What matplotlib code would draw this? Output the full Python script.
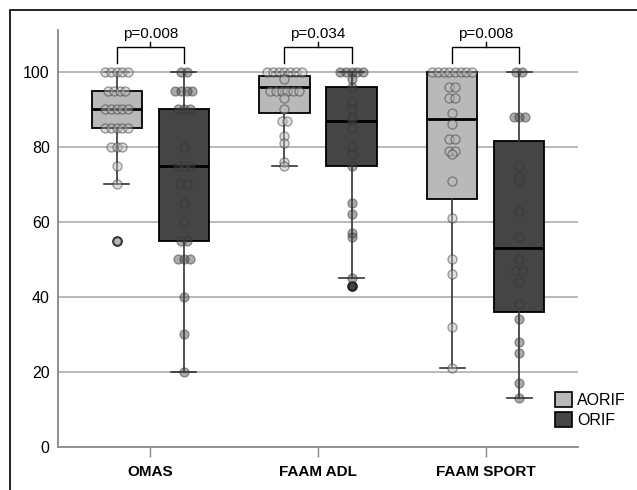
import numpy as np
import matplotlib
matplotlib.use("Agg")
import matplotlib.pyplot as plt
from matplotlib.patches import Patch, Rectangle

plt.rcParams['font.family'] = ['Liberation Sans', 'DejaVu Sans']

categories = ["OMAS", "FAAM ADL", "FAAM SPORT"]
groups = ["AORIF", "ORIF"]
colors = {"AORIF": "#b9b9b9", "ORIF": "#454545"}
pvalues = ["p=0.008", "p=0.034", "p=0.008"]

# individual scores
omas_aorif = [100]*5 + [95]*4 + [90]*5 + [85]*5 + [80]*3 + [75, 70, 55]
omas_orif = [100]*2 + [95]*4 + [90]*3 + [80] + [75]*3 + [70]*2 + [65, 60] + [55]*2 + [50]*3 + [40, 30, 20]
adl_aorif = [100]*7 + [98] + [95]*6 + [93, 90] + [87]*2 + [83, 81, 76, 75]
adl_orif = [100]*5 + [98, 96, 92, 90, 88, 87, 85, 80, 78, 75, 65, 62, 57, 56, 45, 43]
sport_aorif = [100]*8 + [96]*2 + [93]*2 + [89, 86] + [82]*2 + [79]*2 + [78, 71, 61, 50, 46, 32, 21]
sport_orif = [100]*2 + [88]*3 + [75, 72, 71, 63, 56, 50, 47, 47, 44, 38, 34, 28, 25, 17, 13]

# box statistics per category: AORIF / ORIF
q1 = {"AORIF": [85, 89, 66], "ORIF": [55, 75, 36]}
med = {"AORIF": [90, 96, 87.5], "ORIF": [75, 87, 53]}
q3 = {"AORIF": [95, 99, 100], "ORIF": [90, 96, 81.5]}
whislo = {"AORIF": [70, 75, 21], "ORIF": [20, 45, 13]}
whishi = {"AORIF": [100, 100, 100], "ORIF": [100, 100, 100]}
fliers = {"AORIF": [[55], [], []], "ORIF": [[], [43], []]}

points = {"AORIF": [omas_aorif, adl_aorif, sport_aorif],
          "ORIF": [omas_orif, adl_orif, sport_orif]}

fig = plt.figure(figsize=(6.37, 4.9), dpi=100)
ax = fig.add_axes([0.0911, 0.0878, 0.8163, 0.851])

offs = {"AORIF": -0.2, "ORIF": 0.2}
x = np.arange(len(categories))
for g in groups:
    stats = [dict(med=med[g][i], q1=q1[g][i], q3=q3[g][i], whislo=whislo[g][i],
                  whishi=whishi[g][i], fliers=fliers[g][i]) for i in range(len(categories))]
    ax.bxp(stats, positions=x + offs[g], widths=0.3, capwidths=0.15, patch_artist=True,
           boxprops=dict(facecolor=colors[g], edgecolor="black", lw=1.3),
           medianprops=dict(color="black", lw=2),
           whiskerprops=dict(color="#333333", lw=1.2),
           capprops=dict(color="#333333", lw=1.2),
           flierprops=dict(marker="o", markerfacecolor=colors[g], markeredgecolor="black",
                           markeredgewidth=1.5, markersize=6),
           zorder=2)
    # swarm-like strip: spread equal values sideways
    for i, vals in enumerate(points[g]):
        vals = np.array(vals, float)
        xs = np.zeros(len(vals))
        for v in np.unique(vals):
            idx = np.where(vals == v)[0]
            xs[idx] = (np.arange(len(idx)) - (len(idx) - 1) / 2) * 0.034
        ax.scatter(x[i] + offs[g] + xs, vals, s=42, facecolor=colors[g], alpha=0.45,
                   edgecolor="#333333", linewidth=1, zorder=3)

# significance brackets
for i, p in enumerate(pvalues):
    x0, x1 = x[i] - 0.2, x[i] + 0.2
    ax.plot([x0, x0, x1, x1], [102.4, 106.7, 106.7, 102.4], color="black", lw=1, clip_on=False)
    ax.plot([x[i], x[i]], [106.7, 107.9], color="black", lw=1, clip_on=False)
    ax.text(x[i], 108.3, p, ha="center", va="bottom", fontsize=11, clip_on=False)

ax.set_xlim(-0.55, 2.55)
ax.set_ylim(0, 111.2)
ax.set_yticks([0, 20, 40, 60, 80, 100])
ax.set_xticks(x)
ax.set_xticklabels(categories, fontweight="bold", fontsize=11)
ax.tick_params(axis="y", length=0, labelsize=11.5, pad=6)
ax.tick_params(axis="x", length=7, color="#888888", width=1, pad=6)
for yv in [20, 40, 60, 80, 100]:
    ax.axhline(yv, color="#b3b3b3", lw=1.3, zorder=0)
for s in ["top", "right"]:
    ax.spines[s].set_visible(False)
for s in ["left", "bottom"]:
    ax.spines[s].set_color("#888888")
    ax.spines[s].set_linewidth(1.3)

handles = [Patch(facecolor=colors[g], edgecolor="black", lw=1.2) for g in groups]
fig.legend(handles, groups, loc="center left", bbox_to_anchor=(0.862, 0.163), frameon=False,
           fontsize=11.5, handlelength=1.05, handleheight=1.05, handletextpad=0.3,
           labelspacing=0.25, borderaxespad=0)

fig.add_artist(Rectangle((10 / 637, -0.1), 2, 1.1 - 10 / 490, transform=fig.transFigure,
                         fill=False, edgecolor="black", lw=1.2))

fig.savefig("out.png", dpi=100)
